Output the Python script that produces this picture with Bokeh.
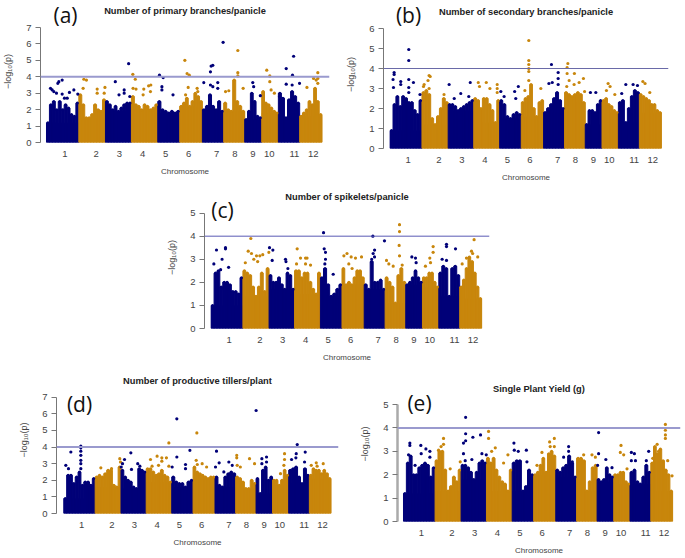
from bokeh.plotting import figure
from bokeh.models import Span, Label, FixedTicker, ColumnDataSource, Spacer
from bokeh.layouts import column, row
from bokeh.embed import file_html
from bokeh.resources import INLINE

NAVY = "#000078"
GOLD = "#C8860C"

chrom_names = [str(i) for i in range(1, 13)]
chrom_len = [43.7, 36.0, 35.1, 35.6, 29.7, 30.6, 28.8, 28.4, 23.0, 22.5, 28.8, 30.2]
tick_pos = [24.8, 67, 98.5, 130, 161, 192, 230, 254.5, 279, 301, 335, 360.5]
threshold = 4

a_title = "Number of primary branches/panicle"
b_title = "Number of secondary branches/panicle"
c_title = "Number of spikelets/panicle"
d_title = "Number of productive tillers/plant"
e_title = "Single Plant Yield (g)"

# dense SNP cloud height per chromosome (evenly spaced windows)
a_body = [
    [1.2,2.3,2.5,2.0,2.5,2.0,2.3,2.1,1.7,1.6,2.4],
    [2.9,2.3,1.5,1.5,1.7,2.3,2.0,1.9,2.6],
    [2.5,2.3,2.0,2.2,1.9,2.1,2.3,2.4,2.4],
    [2.8,2.3,2.2,2.0,2.3,2.2,2.0,2.1,2.3],
    [2.5,2.0,1.9,1.8,1.9,1.8,1.9],
    [2.2,2.4,2.7,2.2,2.5,3.0,2.8,2.5],
    [2.0,2.2,2.9,2.2,2.0,2.5,1.9],
    [2.4,2.0,1.9,3.8,2.5,2.2,1.9],
    [1.4,1.9,3.0,2.5,1.6,1.5],
    [3.1,2.4,2.3,2.1,1.9,1.8],
    [3.0,2.7,1.5,2.6,3.1,2.8,2.4],
    [1.6,1.8,2.0,2.5,2.3,3.3,2.5,1.7],
]
b_body = [
    [0.9,2.2,2.6,2.1,2.6,2.5,2.3,2.3,1.9,1.7,2.4],
    [2.8,2.9,2.7,1.5,1.2,1.6,2.0,2.5,2.3],
    [2.2,2.2,2.1,1.9,2.0,2.1,2.2,2.3,2.4],
    [2.5,2.4,2.0,2.5,2.5,2.2,1.9,1.3,2.4],
    [2.4,2.2,1.6,1.5,1.7,1.8,1.7],
    [2.3,2.5,2.6,3.2,2.0,1.6,2.3,2.4],
    [1.8,2.0,2.2,2.5,2.8,2.4,2.0],
    [2.8,2.7,2.6,2.7,2.8,2.7,2.3],
    [1.2,1.9,1.9,1.8,2.2,2.4],
    [2.4,2.5,2.2,2.1,1.9,1.8],
    [2.3,2.4,1.3,2.0,2.6,2.9,2.8],
    [2.7,2.6,2.5,2.4,2.2,2.2,1.9,1.8],
]
c_body = [
    [1.0,2.4,2.5,1.8,2.0,2.0,1.9,1.6,1.6,1.5,2.2],
    [2.5,2.4,2.3,1.8,1.4,1.8,2.4,1.6,2.6],
    [2.3,2.0,2.0,2.2,1.9,1.7,2.4,2.3,1.7],
    [2.5,2.5,2.2,2.4,2.4,2.0,1.7,1.5,2.4],
    [2.2,2.6,1.9,1.4,1.5,1.7,1.9],
    [2.6,1.9,2.0,1.9,2.2,2.5,2.5,2.2],
    [1.9,1.7,2.9,2.0,2.0,2.1,1.7],
    [2.2,2.0,1.8,1.1,2.3,2.6,2.0],
    [1.9,2.0,2.2,2.5,2.2,2.0],
    [2.2,2.2,2.4,2.4,2.0,1.8],
    [2.4,2.7,2.6,1.4,2.6,2.7,2.3],
    [1.8,2.1,2.6,3.1,2.9,2.4,1.8,1.3],
]
d_body = [
    [0.9,2.3,2.3,1.8,2.2,2.5,1.7,1.9,1.9,1.7,2.1],
    [2.2,2.3,2.2,2.4,2.6,2.6,1.7,1.6,2.8],
    [2.6,2.2,2.0,1.9,1.6,1.5,2.7,2.6,2.5],
    [2.7,2.7,2.5,2.3,2.4,2.6,2.3,2.2,1.9],
    [2.2,1.9,1.8,1.8,1.6,1.9,2.0],
    [2.8,2.5,2.4,2.3,2.2,2.1,2.2,2.2],
    [2.2,1.7,1.6,2.2,2.4,2.5,2.4],
    [2.2,2.1,1.9,1.5,1.5,2.0,1.8],
    [2.1,1.2,2.6,2.8,2.0,2.2],
    [2.0,2.0,1.7,2.0,2.6,2.3],
    [2.6,2.7,2.8,2.2,1.8,2.7,2.3],
    [2.3,2.7,2.6,2.6,2.4,2.6,2.4,2.1],
]
e_body = [
    [1.2,2.5,2.8,2.0,2.0,2.3,2.4,2.5,2.4,1.9,2.3],
    [2.6,3.0,3.0,2.2,1.3,1.5,1.9,1.7,2.2],
    [2.4,2.4,2.3,2.1,1.8,2.1,2.5,2.6,2.5],
    [2.7,2.5,2.7,2.2,1.9,1.7,1.6,1.3,2.2],
    [2.5,2.6,2.6,1.3,1.5,2.2,2.0],
    [2.0,2.1,2.4,2.7,2.1,2.9,3.0,2.8],
    [2.2,2.1,2.3,2.4,2.8,2.5,1.9],
    [2.7,2.7,2.6,1.3,1.7,2.3,2.4],
    [1.8,1.7,1.8,2.3,2.0,1.9],
    [2.0,2.0,2.1,2.1,1.7,1.6],
    [2.1,2.2,1.7,1.6,1.9,2.4,2.1],
    [2.5,3.2,2.9,3.1,2.6,2.2,2.0,1.3],
]

# individual SNPs standing clear of the cloud: genome position (Mb), -log10(p)
a_snp_x = [5.4,7.7,9.9,13.5,15.3,16.7,21.2,21.2,24.3,31,37,42.3,28,50.5,54,49.5,68.5,68.5,79,78,93,98,105,105,111,112.6,
           116.7,120,117,121,131.5,138,141,140.5,130.6,152.7,157.7,156,156,171,187,190,193,191.5,203.6,204.5,188,
           212.6,221.6,222.5,224.8,221.6,224.8,231.5,231.5,238.7,242,258.6,258.6,258.6,246.4,265.8,278.8,280,289,
           297.7,301.8,301.8,303.6,308,315,324,332.5,334,324,342,332,366.7,361,364.5,366.7,352,366.7]
a_snp_y = [3.3,3.2,3.1,3.0,3.6,3.7,3.8,2.95,2.7,3.05,3.2,2.95,2.7,3.85,3.8,3.3,3.25,3.0,3.35,3.0,3.7,2.9,3.2,3.0,4.8,2.8,
           4.15,3.85,3.3,3.25,3.25,3.45,3.5,3.1,2.9,4.1,3.95,3.4,3.2,2.9,5.0,4.2,4.1,3.35,3.3,3.1,2.9,
           3.65,4.3,4.65,4.7,3.5,3.4,3.65,3.3,6.1,3.1,5.6,4.25,4.05,3.15,3.3,3.65,3.4,2.85,
           4.4,4.05,3.7,3.2,3.0,2.8,4.5,4.1,5.25,3.55,3.6,3.5,4.25,3.9,3.8,3.9,3.35,3.6]
b_snp_x = [5.5,5.5,4,4.6,14.6,14.6,25.6,25.6,25.6,25.6,25.6,32,41,53.5,55,52,46.7,45.8,53.5,74,81,97,110,88,108,
           121,122.7,132,137,147,147,147,152,156.5,171,176,172.5,190.4,190.4,190.4,190.4,190.4,190.4,206.9,185,
           221.5,230.7,230.7,218,222.6,230.7,244,243,243,253,245.8,252.6,259.5,265.4,242.5,282.4,275,267,
           299.3,302,297,308.5,323.6,333.6,339.6,318,347,350,356.5]
b_snp_y = [3.8,3.7,3.45,3.05,3.35,3.2,4.95,4.4,3.45,3.05,2.8,3.3,2.7,3.65,3.6,3.4,3.2,3.1,3.0,2.7,3.2,2.75,3.3,2.5,2.6,
           3.3,3.1,3.3,3.0,3.2,3.0,2.8,2.85,2.6,2.85,3.1,2.5,5.4,4.4,4.2,4.0,3.85,3.4,3.0,2.9,
           4.2,3.8,3.5,3.25,3.3,3.2,4.25,4.05,3.75,3.75,3.4,3.2,3.3,3.5,3.1,2.8,2.8,2.85,
           3.25,3.1,2.9,2.7,3.2,3.2,3.15,2.75,3.35,3.25,2.8]
c_snp_x = [7.3,3.7,19.7,19.7,15,24,13,54.6,51,55.5,47,62.4,67,71,58.7,64,79.4,80.3,84.9,84,102.3,103,105.6,
           118.4,123,129.9,132,117.5,129.9,136.8,154.7,155.6,157.4,157.4,156.5,168,182.7,187,192.7,198.7,207,189.5,194,
           222.6,225,223,221,238.6,241.4,244.6,224.9,259.3,259.3,258.8,259.3,250.6,263,276.3,281.3,282.2,
           305.6,305.6,301,295,302,324,324,336.4,318,324,362,358.4,360,351.5,367,345.6]
c_snp_y = [3.4,2.8,3.5,3.45,3.0,2.65,2.55,3.9,3.35,3.25,2.85,3.15,3.15,3.2,3.0,2.9,3.3,3.5,3.4,2.95,3.0,2.9,2.6,
           3.45,3.05,3.05,3.05,2.8,2.8,2.75,4.15,3.45,3.3,3.0,2.8,2.35,3.15,3.25,3.1,3.05,3.1,2.8,2.6,
           4.0,3.4,3.25,3.0,3.8,2.95,2.8,3.1,4.5,4.2,3.6,3.15,2.7,2.75,3.1,3.05,2.85,
           3.55,3.3,3.05,2.7,2.85,3.65,3.55,3.45,3.0,2.95,3.85,3.35,3.25,3.05,3.1,2.8]
d_snp_x = [9.8,2.8,6.5,23.7,23.7,23.7,23.7,23.7,23.7,23.7,51.6,66.5,78,79,84.6,81.8,80,93.4,94.3,103,106,
           120.8,130,136.6,143,136.6,146.4,146.4,151,123,132,157.5,157.5,175.7,169.6,169.6,185.4,184.5,192.8,199,186,
           212.8,216.5,211.4,230,234.7,223,241,241,246,258.8,265.8,241.6,268,282.5,276,282.5,276,
           307.6,307.6,306.7,302,325.3,323.9,336.4,317.4,335.5,323.4,344.8,351.8,361.5,353]
d_snp_y = [3.7,2.9,2.7,4.05,3.95,3.75,3.5,3.2,3.0,2.7,2.75,2.7,3.3,3.1,3.25,3.0,2.8,3.65,2.65,3.0,2.85,
           3.25,3.45,3.35,3.35,3.15,4.25,2.85,2.8,2.85,2.9,5.7,3.4,3.8,2.95,2.7,4.85,3.2,3.0,2.8,2.95,
           3.75,3.05,2.8,3.1,2.9,2.5,3.5,3.35,2.8,3.3,3.0,2.9,6.2,3.4,3.3,3.1,3.0,
           3.6,3.25,2.9,2.4,4.15,3.6,3.7,3.25,3.1,3.35,2.9,3.05,3.0,2.85]
e_snp_x = [8.8,8.8,7,24,31,36.5,36.5,16,24.5,55.4,55.4,52,48.5,64.6,78.5,86,86,86,83,83,96,106.6,94.6,108.5,85.4,114.5,
           117.7,117.7,127,138.5,144.5,122,152.8,153.3,158.8,170,170.8,191.6,202.2,208.7,203,208.7,184.7,
           228.5,221.6,228.5,233.6,249.3,260.8,265.5,270,270,268.7,280,288.5,301,300,304.7,309.3,
           315.3,319.5,315.3,339.3,336,321,351,362.4,362.4,362.4,362.4,344.9,353,365.6,371.6]
e_snp_y = [3.35,3.25,2.85,3.25,3.1,3.0,2.75,2.4,2.9,3.55,3.3,3.2,3.05,2.25,2.55,4.45,3.75,3.45,3.35,2.9,3.6,3.7,2.65,2.9,2.6,2.85,
           3.85,3.55,3.15,2.5,2.85,3.0,3.35,3.05,3.0,3.05,2.55,2.95,3.4,3.55,3.2,3.2,2.4,
           3.2,2.75,3.0,2.55,2.85,2.85,2.75,3.8,2.9,2.4,2.65,2.3,3.25,2.95,2.85,2.25,
           2.95,2.9,2.6,3.0,2.6,2.6,3.3,4.15,3.9,3.7,3.55,2.7,3.0,2.6,1.95]

edges = [0.0]
for length in chrom_len:
    edges.append(edges[-1] + length)


def colour_of(pos):
    for i in range(12):
        if pos <= edges[i + 1]:
            return NAVY if i % 2 == 0 else GOLD
    return GOLD


def panel(title, body, sx, sy, ymax, letter, frame, plot_h, borders, xr, line_style,
          title_y, letter_xy, axis_width=1.0, axis_color="#777777"):
    left, right, bottom = borders
    y_end = ymax * frame[1] / plot_h
    p = figure(frame_width=frame[0], frame_height=frame[1], x_range=xr, y_range=(0, y_end),
               output_backend="svg", toolbar_location=None,
               min_border_left=left, min_border_right=right, min_border_top=0, min_border_bottom=bottom)
    p.background_fill_color = "white"
    p.border_fill_color = "white"
    p.outline_line_color = None
    p.grid.visible = False

    xs, tops, widths, cols = [], [], [], []
    for i, heights in enumerate(body):
        step = chrom_len[i] / len(heights)
        colour = NAVY if i % 2 == 0 else GOLD
        p.quad(left=edges[i], right=edges[i + 1], bottom=0, top=min(heights), fill_color=colour, line_color=None)
        for j, h in enumerate(heights):
            xs.append(edges[i] + (j + 0.5) * step)
            tops.append(h)
            widths.append(step)
            cols.append(colour)
    src = ColumnDataSource(dict(x=xs, top=tops, w=widths, c=cols))
    p.vbar(x="x", top="top", bottom=0, width="w", fill_color="c", line_color="c", line_width=1, source=src)
    p.scatter(x="x", y="top", size=3, fill_color="c", line_color=None, source=src)
    p.scatter(x=sx, y=sy, size=3.2, fill_color=[colour_of(v) for v in sx], line_color=None)

    p.add_layout(Span(location=threshold, dimension="width", line_color=line_style[0], line_width=line_style[1]))

    ax = p.xaxis[0]
    ax.ticker = FixedTicker(ticks=tick_pos)
    ax.major_label_overrides = {t: n for t, n in zip(tick_pos, chrom_names)}
    ax.axis_line_color = None
    ax.major_tick_line_color = None
    ax.minor_tick_line_color = None
    ax.major_tick_out = 0
    ax.major_tick_in = 0
    ax.major_label_standoff = 8
    ax.major_label_text_font = "Liberation Sans"
    ax.major_label_text_font_size = "9.5px"
    ax.major_label_text_color = "#444444"
    ax.axis_label = "Chromosome"
    ax.axis_label_standoff = 7
    ax.axis_label_text_font = "Liberation Sans"
    ax.axis_label_text_font_style = "normal"
    ax.axis_label_text_font_size = "8px"
    ax.axis_label_text_color = "#444444"

    ay = p.yaxis[0]
    ay.ticker = FixedTicker(ticks=list(range(ymax + 1)))
    ay.bounds = (0, ymax)
    ay.axis_line_color = axis_color
    ay.axis_line_width = axis_width
    ay.major_tick_line_color = "#777777"
    ay.major_tick_out = 5
    ay.major_tick_in = 0
    ay.minor_tick_line_color = None
    ay.major_label_standoff = 4
    ay.major_label_text_font = "Liberation Sans"
    ay.major_label_text_font_size = "9.5px"
    ay.major_label_text_color = "#444444"
    ay.axis_label = "\u2212log\u2081\u2080(p)"
    ay.axis_label_standoff = 10
    ay.axis_label_text_font = "Liberation Sans"
    ay.axis_label_text_font_style = "normal"
    ay.axis_label_text_font_size = "9px"
    ay.axis_label_text_color = "#444444"

    p.add_layout(Label(x=frame[0] / 2, y=title_y, x_units="screen", y_units="screen",
                       text=title, text_font="Liberation Sans", text_font_size="9.3px",
                       text_font_style="bold", text_color="#222222",
                       text_align="center", text_baseline="middle"))
    p.add_layout(Label(x=letter_xy[0], y=letter_xy[1], x_units="screen", y_units="screen",
                       text=letter, text_font="Open Sans", text_font_size="21px", text_color="#111111",
                       text_align="center", text_baseline="middle"))
    return p


pa = panel(a_title, a_body, a_snp_x, a_snp_y, 7, "(a)", (289, 142), 115, (40, 6, 44), (-8.1, 382.5),
           ("#9a9ace", 2), 132, (25, 128))
pb = panel(b_title, b_body, b_snp_x, b_snp_y, 6, "(b)", (285, 148), 120, (48, 17, 38), (-9.1, 382.2),
           ("#6a6aa8", 1), 137, (25, 134))
pc = panel(c_title, c_body, c_snp_x, c_snp_y, 5, "(c)", (285, 142), 115.4, (44, 21, 38), (-9.2, 383.2),
           ("#5a5ab4", 1), 132, (18, 119))
pd_ = panel(d_title, d_body, d_snp_x, d_snp_y, 7, "(d)", (282, 147), 116.3, (56, 7, 45), (-10.2, 382.8),
            ("#9a9ace", 2), 133, (23, 110))
pe = panel(e_title, e_body, e_snp_x, e_snp_y, 5, "(e)", (283, 155), 117, (52, 5, 37), (-8.3, 383.3),
           ("#9a9ace", 2), 133, (22, 119), axis_width=2.5, axis_color="#aaaaaa")

layout = column(
    row(pa, pb, spacing=0),
    row(Spacer(width=160, height=100), pc, spacing=0),
    row(pd_, pe, spacing=0),
    spacing=0,
)
open("out.html", "w").write(file_html(layout, INLINE))
